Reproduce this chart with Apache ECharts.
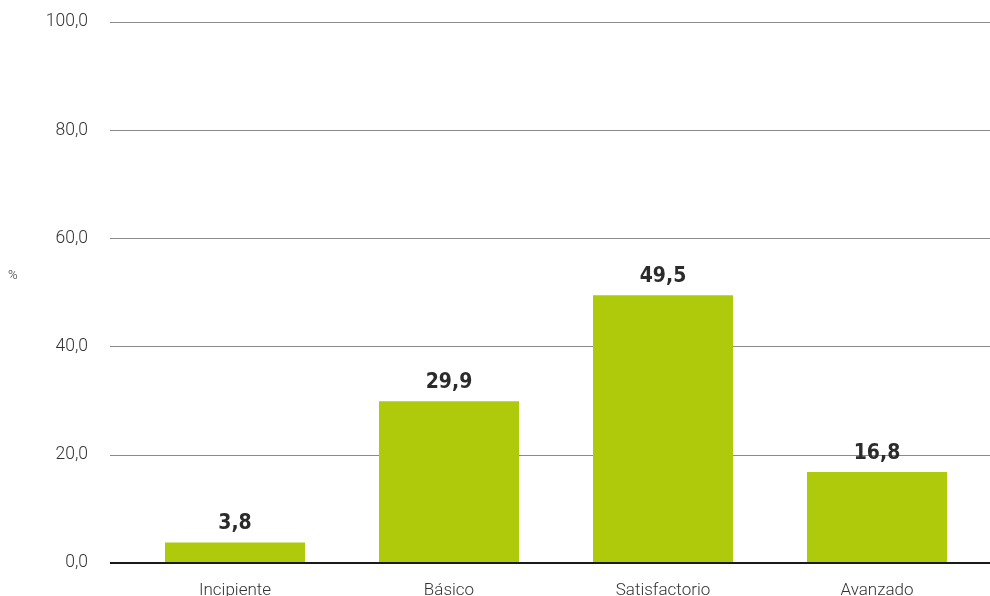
<!DOCTYPE html>
<html><head><meta charset="utf-8">
<script src="https://cdn.jsdelivr.net/npm/echarts@6/dist/echarts.min.js"></script>
<style>html,body{margin:0;padding:0;background:#fff}#c{width:990px;height:596px}</style>
</head><body><div id="c"></div>
<script>
const categories = ['Incipiente', 'Básico', 'Satisfactorio', 'Avanzado'];
const values = [3.8, 29.9, 49.5, 16.8];
const yTicks = [0, 20, 40, 60, 80, 100];
const fmt = v => v.toFixed(1).replace('.', ',');
const chart = echarts.init(document.getElementById('c'));
chart.setOption({
  animation: false,
  grid: [
    {left: 110, right: 0, top: 22, bottom: 33, containLabel: false, outerBoundsMode: 'none'},
    {left: 128, right: 6, top: 22, bottom: 33, containLabel: false, outerBoundsMode: 'none'}
  ],
  xAxis: [
    {gridIndex: 0, type: 'value', min: 0, max: 1, show: false},
    {gridIndex: 1, type: 'category', data: categories,
     axisLine: {show: false}, axisTick: {show: false},
     axisLabel: {margin: 19, fontSize: 17, color: '#333', fontFamily: 'Roboto', fontWeight: 300}}
  ],
  yAxis: [
    {gridIndex: 0, type: 'value', min: yTicks[0], max: yTicks[yTicks.length-1], interval: 20,
     axisLine: {show: false}, axisTick: {show: false},
     splitLine: {lineStyle: {color: '#8a8a8a', width: 1}},
     axisLabel: {margin: 22, fontSize: 17.5, color: '#333', fontFamily: 'Roboto', fontWeight: 300, formatter: fmt}},
    {gridIndex: 1, type: 'value', min: 0, max: 100, show: false}
  ],
  series: [
    {type: 'bar', xAxisIndex: 1, yAxisIndex: 1, data: values, barWidth: 140,
     itemStyle: {color: '#afc90b'},
     label: {show: true, position: 'top', distance: 8, formatter: p => fmt(p.value),
             fontFamily: 'DejaVu Sans Condensed', fontWeight: 'bold', fontSize: 21, color: '#2b2b2b'}},
    {type: 'line', xAxisIndex: 0, yAxisIndex: 0, data: [[0,0],[1,0]], symbol: 'none',
     lineStyle: {color: '#1a1a1a', width: 2}, z: 5, silent: true}
  ],
  graphic: [
    {type: 'text', left: 8, top: 269, style: {text: '%', fontSize: 13, fill: '#333', fontFamily: 'Roboto', fontWeight: 300}}
  ]
});
</script></body></html>
